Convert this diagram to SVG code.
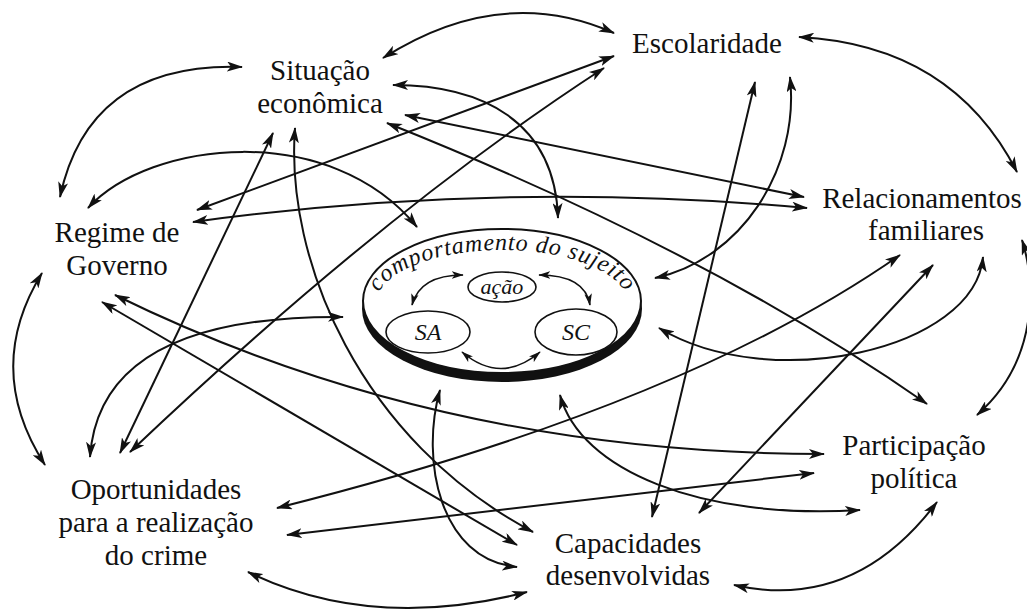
<svg xmlns="http://www.w3.org/2000/svg" width="1027" height="609" viewBox="0 0 1027 609">
<style>
.lbl{font-family:'Liberation Serif','Times New Roman','DejaVu Serif',serif;font-size:29px;fill:#111;text-anchor:middle}
.it{font-family:'Liberation Serif','Times New Roman','DejaVu Serif',serif;font-style:italic;fill:#111;text-anchor:middle}
.c{fill:none;stroke:#111;stroke-width:2;marker-start:url(#ah);marker-end:url(#ah)}
.ci{fill:none;stroke:#111;stroke-width:1.6;marker-start:url(#ahs);marker-end:url(#ahs)}
</style>
<defs>
<marker id="ah" viewBox="0 0 16 10" refX="15" refY="5" markerWidth="16" markerHeight="10" markerUnits="userSpaceOnUse" orient="auto-start-reverse"><path d="M0,0 L16,5 L0,10 L4,5 Z" fill="#111"/></marker>
<marker id="ahs" viewBox="0 0 16 10" refX="15" refY="5" markerWidth="12" markerHeight="8" markerUnits="userSpaceOnUse" orient="auto-start-reverse"><path d="M0,0 L16,5 L0,10 L4,5 Z" fill="#111"/></marker>
<path id="arc" d="M376,304 A126,54 0 0 1 628,304"/>
</defs>
<rect width="1027" height="609" fill="#fff"/>
<g id="connectors">
<path class="c" d="M60,197 Q89,62 242,67"/>
<path class="c" d="M383,58 Q501,-17 614,33"/>
<path class="c" d="M88,208 C150,140 330,120 417,227"/>
<path class="c" d="M197,210 L614,56"/>
<path class="c" d="M604,68 Q385,210 130,452"/>
<path class="c" d="M393,85 C480,85 555,120 558,218"/>
<path class="c" d="M405,115 L804,197"/>
<path class="c" d="M387,123 Q710,252 927,404"/>
<path class="c" d="M193,222 Q500,180 807,208"/>
<path class="c" d="M273,133 L120,453"/>
<path class="c" d="M295,128 C285,260 360,440 533,532"/>
<path class="c" d="M102,302 L517,545"/>
<path class="c" d="M115,295 Q439,454 824,454"/>
<path class="c" d="M440,390 C420,460 440,560 517,567"/>
<path class="c" d="M248,572 Q372,632 527,592"/>
<path class="c" d="M277,508 Q684,406 900,255"/>
<path class="c" d="M287,535 L814,473"/>
<path class="c" d="M90,457 Q100,315 343,317"/>
<path class="c" d="M42,273 Q-17,369 45,465"/>
<path class="c" d="M755,82 L652,517"/>
<path class="c" d="M790,77 C800,170 740,260 655,278"/>
<path class="c" d="M799,37 Q952,45 1017,172"/>
<path class="c" d="M1022,240 C1035,280 1040,360 977,415"/>
<path class="c" d="M933,265 L699,513"/>
<path class="c" d="M983,257 C975,350 770,395 659,328"/>
<path class="c" d="M734,585 Q854,612 937,502"/>
<path class="c" d="M560,395 C580,470 700,520 860,510"/>
</g>
<g id="comportamento">
<ellipse cx="502" cy="309" rx="140" ry="73" fill="#111"/>
<ellipse cx="502" cy="301" rx="139" ry="72" fill="#fff" stroke="#111" stroke-width="2"/>
<text class="it" font-size="24" letter-spacing="0.8"><textPath href="#arc" startOffset="50%">comportamento do sujeito</textPath></text>
<g id="acao"><ellipse cx="502" cy="287" rx="34" ry="15" fill="#fff" stroke="#111" stroke-width="1.6"/><text class="it" x="502" y="294" font-size="22">ação</text></g>
<g id="SA"><ellipse cx="428" cy="332" rx="42" ry="21" fill="#fff" stroke="#111" stroke-width="1.6"/><text class="it" x="428" y="340" font-size="24">SA</text></g>
<g id="SC"><ellipse cx="576" cy="332" rx="41" ry="23" fill="#fff" stroke="#111" stroke-width="1.6"/><text class="it" x="576" y="340" font-size="24">SC</text></g>
<path class="ci" d="M463,275 Q420,275 412,305"/>
<path class="ci" d="M539,275 Q585,275 590,305"/>
<path class="ci" d="M462,352 Q501,385 540,352"/>
</g>
<g id="situacao"><text class="lbl" x="320" y="80">Situação</text><text class="lbl" x="320" y="113">econômica</text></g>
<g id="escolaridade"><text class="lbl" x="707" y="53">Escolaridade</text></g>
<g id="regime"><text class="lbl" x="117" y="242">Regime de</text><text class="lbl" x="117" y="275">Governo</text></g>
<g id="relacionamentos"><text class="lbl" x="922" y="208">Relacionamentos</text><text class="lbl" x="926" y="240">familiares</text></g>
<g id="participacao"><text class="lbl" x="914" y="455">Participação</text><text class="lbl" x="914" y="488">política</text></g>
<g id="capacidades"><text class="lbl" x="628" y="553">Capacidades</text><text class="lbl" x="628" y="585">desenvolvidas</text></g>
<g id="oportunidades"><text class="lbl" x="156" y="499">Oportunidades</text><text class="lbl" x="156" y="532">para a realização</text><text class="lbl" x="156" y="565">do crime</text></g>
</svg>
